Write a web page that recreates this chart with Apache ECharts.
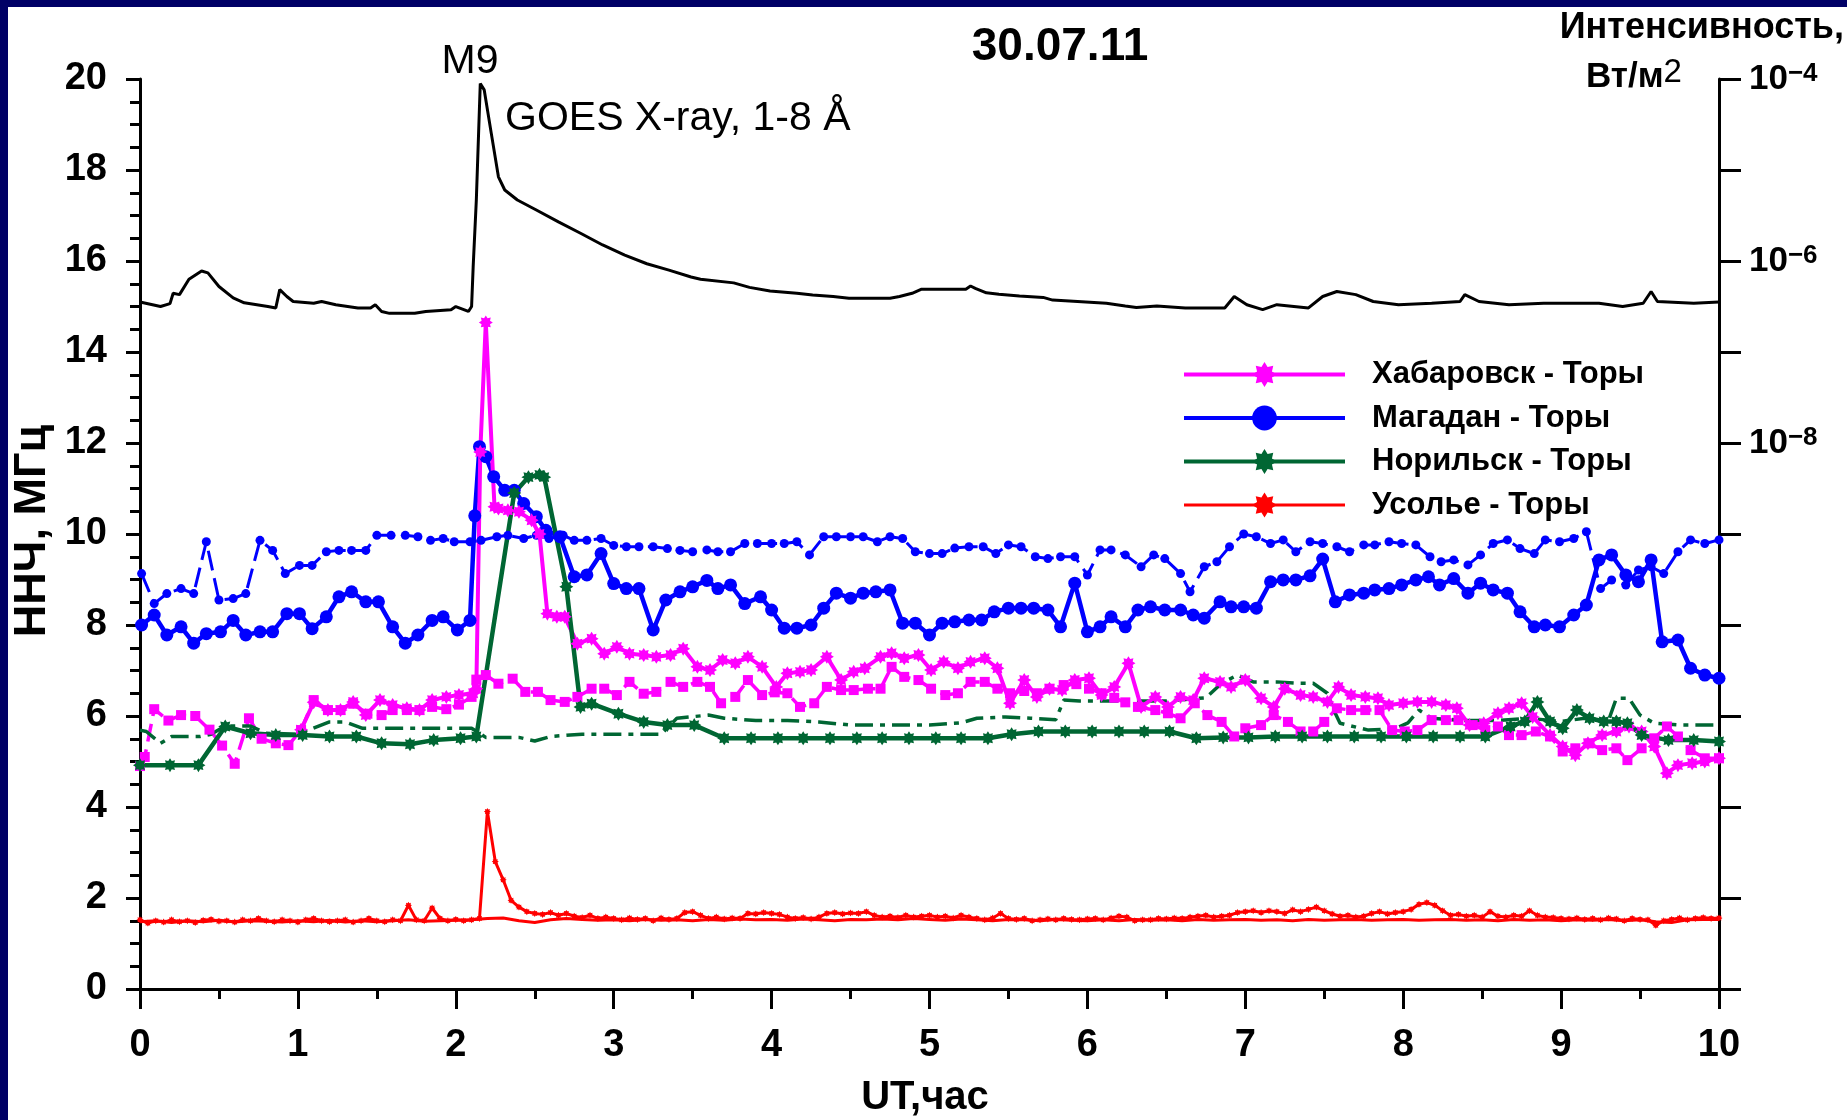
<!DOCTYPE html>
<html><head><meta charset="utf-8">
<script src="https://cdn.jsdelivr.net/npm/echarts@6/dist/echarts.min.js"></script>
<style>
html,body{margin:0;padding:0;background:#000066;width:1847px;height:1120px;overflow:hidden}
#chart{position:absolute;left:8px;top:7px;width:1839px;height:1113px;background:#fff}
</style></head><body><div id="chart"></div>
<script>
// ---------------- DATA ----------------
// time axis (UT, hours) ticks and left axis ticks
const xTickHours = [0,1,2,3,4,5,6,7,8,9,10];
const leftTicks = [0,2,4,6,8,10,12,14,16,18,20];
// right (log) axis: tick decades and labelled decades
const goesTickValues = [1e-4,1e-5,1e-6,1e-7,1e-8,1e-9,1e-10,1e-11,1e-12,1e-13,1e-14];
const goesLabelValues = [1e-4,1e-6,1e-8];

// GOES X-ray flux 1-8 A, W/m^2  [UT hour, flux]
const goesXray = [[0.00,3.55e-7],[0.13,3.16e-7],[0.19,3.4e-7],[0.21,4.42e-7],[0.25,4.27e-7],[0.31,6.31e-7],[0.39,7.76e-7],[0.43,7.41e-7],[0.50,5.25e-7],[0.59,3.94e-7],[0.66,3.47e-7],[0.81,3.16e-7],[0.86,3.05e-7],[0.885,4.84e-7],[0.93,4.07e-7],[0.97,3.59e-7],[1.10,3.43e-7],[1.15,3.59e-7],[1.24,3.31e-7],[1.38,3.05e-7],[1.46,3.05e-7],[1.49,3.31e-7],[1.53,2.79e-7],[1.58,2.66e-7],[1.74,2.66e-7],[1.81,2.79e-7],[1.97,2.92e-7],[2.00,3.16e-7],[2.08,2.79e-7],[2.10,3.16e-7],[2.11,8.61e-7],[2.13,4.68e-6],[2.155,8.91e-5],[2.18,7.59e-5],[2.225,2.51e-5],[2.27,8.41e-6],[2.31,6.03e-6],[2.39,4.68e-6],[2.51,3.63e-6],[2.65,2.69e-6],[2.79,2.02e-6],[2.93,1.50e-6],[3.07,1.16e-6],[3.21,9.33e-7],[3.35,7.94e-7],[3.49,6.68e-7],[3.55,6.31e-7],[3.76,5.75e-7],[3.86,5.13e-7],[3.99,4.68e-7],[4.16,4.42e-7],[4.26,4.22e-7],[4.39,4.07e-7],[4.49,3.89e-7],[4.75,3.89e-7],[4.81,4.07e-7],[4.89,4.42e-7],[4.95,4.90e-7],[5.23,4.90e-7],[5.26,5.31e-7],[5.29,5.01e-7],[5.36,4.47e-7],[5.44,4.32e-7],[5.57,4.12e-7],[5.72,3.98e-7],[5.78,3.72e-7],[5.99,3.55e-7],[6.12,3.43e-7],[6.24,3.20e-7],[6.31,3.09e-7],[6.44,3.20e-7],[6.62,3.05e-7],[6.87,3.05e-7],[6.93,4.07e-7],[7.01,3.31e-7],[7.11,2.92e-7],[7.20,3.31e-7],[7.40,3.05e-7],[7.49,4.07e-7],[7.58,4.62e-7],[7.70,4.27e-7],[7.81,3.59e-7],[7.97,3.31e-7],[8.18,3.43e-7],[8.36,3.59e-7],[8.39,4.27e-7],[8.48,3.59e-7],[8.67,3.31e-7],[8.89,3.43e-7],[9.09,3.43e-7],[9.24,3.43e-7],[9.39,3.16e-7],[9.52,3.43e-7],[9.57,4.62e-7],[9.61,3.59e-7],[9.84,3.43e-7],[10.0,3.55e-7]];

// Магадан - Торы, MHz  [UT hour, MHz]
const magadanMain = [[0.01,8.0],[0.09,8.22],[0.17,7.78],[0.26,7.96],[0.34,7.6],[0.42,7.81],[0.51,7.85],[0.59,8.1],[0.67,7.78],[0.76,7.85],[0.84,7.85],[0.93,8.25],[1.01,8.25],[1.09,7.92],[1.18,8.18],[1.26,8.62],[1.34,8.73],[1.43,8.51],[1.51,8.51],[1.60,7.96],[1.68,7.6],[1.76,7.78],[1.85,8.1],[1.92,8.18],[2.01,7.89],[2.09,8.1],[2.12,10.4],[2.15,11.92],[2.19,11.7],[2.24,11.26],[2.31,10.96],[2.37,10.96],[2.43,10.67],[2.51,10.38],[2.57,10.08],[2.66,9.94],[2.75,9.06],[2.83,9.1],[2.92,9.57],[3.0,8.91],[3.08,8.8],[3.16,8.8],[3.25,7.89],[3.33,8.55],[3.42,8.73],[3.5,8.84],[3.59,8.98],[3.66,8.8],[3.74,8.88],[3.83,8.47],[3.93,8.62],[4.0,8.33],[4.08,7.93],[4.16,7.93],[4.25,8.0],[4.33,8.37],[4.41,8.7],[4.5,8.59],[4.58,8.7],[4.66,8.73],[4.75,8.77],[4.83,8.04],[4.91,8.04],[5.0,7.78],[5.08,8.04],[5.16,8.07],[5.25,8.11],[5.33,8.11],[5.41,8.29],[5.5,8.37],[5.58,8.37],[5.66,8.37],[5.75,8.33],[5.83,7.96],[5.92,8.92],[6.0,7.85],[6.08,7.96],[6.15,8.18],[6.24,7.96],[6.32,8.33],[6.4,8.4],[6.49,8.33],[6.59,8.33],[6.67,8.22],[6.74,8.15],[6.84,8.51],[6.91,8.4],[6.99,8.4],[7.07,8.37],[7.16,8.95],[7.24,8.99],[7.32,8.99],[7.41,9.08],[7.49,9.45],[7.57,8.51],[7.66,8.66],[7.75,8.7],[7.82,8.77],[7.91,8.8],[7.99,8.88],[8.08,8.99],[8.16,9.06],[8.23,8.88],[8.32,9.02],[8.41,8.7],[8.49,8.92],[8.57,8.77],[8.66,8.7],[8.74,8.29],[8.83,7.96],[8.9,8.0],[8.99,7.96],[9.08,8.22],[9.16,8.44],[9.24,9.43],[9.32,9.54],[9.41,9.1],[9.49,8.95],[9.57,9.43],[9.64,7.63],[9.74,7.67],[9.82,7.05],[9.91,6.9],[10.0,6.83]];
const magadanAlt = [[0.01,9.13],[0.09,8.47],[0.17,8.69],[0.26,8.8],[0.34,8.69],[0.42,9.83],[0.5,8.55],[0.59,8.58],[0.67,8.69],[0.76,9.86],[0.84,9.64],[0.92,9.13],[1.01,9.31],[1.09,9.31],[1.18,9.61],[1.26,9.64],[1.34,9.64],[1.43,9.64],[1.5,9.97],[1.59,9.97],[1.68,9.97],[1.76,9.94],[1.84,9.86],[1.92,9.9],[1.99,9.83],[2.09,9.83],[2.16,9.86],[2.26,9.94],[2.33,9.97],[2.43,9.9],[2.51,9.97],[2.59,9.9],[2.68,9.97],[2.75,9.86],[2.83,9.86],[2.92,9.9],[3.0,9.75],[3.08,9.72],[3.16,9.72],[3.25,9.72],[3.34,9.68],[3.42,9.64],[3.5,9.61],[3.59,9.65],[3.66,9.61],[3.74,9.61],[3.83,9.79],[3.91,9.79],[4.0,9.79],[4.08,9.79],[4.16,9.83],[4.24,9.54],[4.33,9.94],[4.41,9.94],[4.5,9.94],[4.58,9.94],[4.67,9.83],[4.75,9.94],[4.83,9.9],[4.91,9.61],[5.0,9.57],[5.08,9.57],[5.16,9.69],[5.25,9.72],[5.34,9.72],[5.42,9.57],[5.5,9.76],[5.58,9.72],[5.67,9.5],[5.75,9.46],[5.83,9.5],[5.92,9.5],[6.0,9.1],[6.08,9.65],[6.15,9.65],[6.24,9.54],[6.34,9.28],[6.42,9.54],[6.49,9.46],[6.59,9.13],[6.65,8.73],[6.74,9.28],[6.82,9.39],[6.9,9.72],[6.99,10.0],[7.07,9.94],[7.16,9.79],[7.24,9.87],[7.32,9.61],[7.41,9.83],[7.49,9.79],[7.58,9.72],[7.66,9.61],[7.75,9.76],[7.82,9.76],[7.91,9.83],[7.99,9.79],[8.08,9.76],[8.17,9.5],[8.24,9.39],[8.32,9.43],[8.41,9.32],[8.49,9.54],[8.57,9.79],[8.66,9.87],[8.74,9.68],[8.83,9.57],[8.9,9.87],[8.99,9.83],[9.08,9.9],[9.16,10.05],[9.25,8.8],[9.32,8.99],[9.41,8.88],[9.49,9.21],[9.57,9.28],[9.65,9.13],[9.74,9.61],[9.82,9.87],[9.91,9.79],[10.0,9.87]];

// Хабаровск - Торы
const khabMain = [[1.02,5.7],[1.1,6.3],[1.19,6.13],[1.27,6.13],[1.35,6.31],[1.43,6.02],[1.52,6.35],[1.6,6.24],[1.69,6.17],[1.77,6.13],[1.85,6.35],[1.94,6.42],[2.02,6.46],[2.11,6.5],[2.13,6.6],[2.155,11.8],[2.19,14.65],[2.245,10.6],[2.27,10.56],[2.33,10.52],[2.4,10.49],[2.48,10.3],[2.53,10.0],[2.58,8.25],[2.64,8.18],[2.69,8.18],[2.77,7.59],[2.86,7.7],[2.94,7.37],[3.02,7.52],[3.1,7.37],[3.19,7.34],[3.27,7.3],[3.36,7.34],[3.44,7.48],[3.53,7.08],[3.61,7.01],[3.69,7.23],[3.77,7.16],[3.85,7.3],[3.94,7.08],[4.03,6.64],[4.1,6.94],[4.18,6.97],[4.25,7.01],[4.35,7.3],[4.44,6.79],[4.52,6.97],[4.59,7.05],[4.69,7.3],[4.76,7.38],[4.84,7.27],[4.93,7.34],[5.01,7.01],[5.09,7.19],[5.18,7.05],[5.26,7.19],[5.35,7.27],[5.43,7.05],[5.51,6.28],[5.6,6.79],[5.68,6.42],[5.76,6.6],[5.84,6.57],[5.92,6.79],[6.01,6.83],[6.09,6.46],[6.17,6.64],[6.26,7.16],[6.34,6.2],[6.43,6.42],[6.51,6.2],[6.59,6.42],[6.67,6.35],[6.74,6.83],[6.84,6.75],[6.91,6.64],[7.0,6.79],[7.1,6.39],[7.18,6.2],[7.25,6.6],[7.35,6.46],[7.43,6.42],[7.52,6.31],[7.59,6.64],[7.67,6.46],[7.76,6.42],[7.84,6.39],[7.91,6.24],[8.0,6.28],[8.09,6.31],[8.18,6.31],[8.27,6.24],[8.34,6.17],[8.42,5.8],[8.51,5.84],[8.6,6.06],[8.67,6.17],[8.75,6.28],[8.82,5.98],[8.93,5.58],[9.01,5.33],[9.09,5.14],[9.17,5.4],[9.26,5.58],[9.35,5.66],[9.43,5.77],[9.51,5.66],[9.59,5.33],[9.67,4.74],[9.74,4.92],[9.83,4.96],[9.91,5.0],[10.0,5.07]];
const khabAlt = [[0.0,4.9],[0.03,5.1],[0.09,6.15],[0.18,5.9],[0.26,6.02],[0.35,6.0],[0.44,5.7],[0.52,5.35],[0.6,4.95],[0.69,5.95],[0.77,5.5],[0.86,5.4],[0.94,5.36],[1.02,5.69],[1.1,6.35],[1.19,6.13],[1.27,6.13],[1.35,6.27],[1.44,6.05],[1.53,6.02],[1.6,6.13],[1.69,6.13],[1.77,6.13],[1.85,6.2],[1.94,6.15],[2.02,6.25],[2.1,6.42],[2.13,6.8],[2.19,6.9],[2.27,6.71],[2.36,6.82],[2.44,6.53],[2.52,6.53],[2.6,6.35],[2.69,6.31],[2.77,6.42],[2.86,6.6],[2.94,6.6],[3.02,6.46],[3.1,6.75],[3.19,6.49],[3.27,6.53],[3.36,6.75],[3.44,6.64],[3.53,6.75],[3.61,6.64],[3.68,6.28],[3.77,6.42],[3.85,6.79],[3.94,6.46],[4.02,6.52],[4.1,6.5],[4.18,6.2],[4.27,6.28],[4.35,6.64],[4.44,6.57],[4.52,6.57],[4.61,6.6],[4.69,6.6],[4.76,7.08],[4.84,6.86],[4.93,6.79],[5.01,6.6],[5.1,6.46],[5.18,6.5],[5.26,6.75],[5.35,6.75],[5.43,6.6],[5.51,6.5],[5.6,6.55],[5.68,6.5],[5.76,6.6],[5.85,6.68],[5.93,6.7],[6.01,6.6],[6.09,6.5],[6.17,6.4],[6.24,6.3],[6.32,6.2],[6.43,6.13],[6.51,6.06],[6.59,5.95],[6.68,6.28],[6.76,6.02],[6.85,5.87],[6.93,5.55],[7.0,5.73],[7.1,5.8],[7.18,6.02],[7.27,5.87],[7.35,5.66],[7.43,5.66],[7.5,5.87],[7.58,6.17],[7.67,6.13],[7.76,6.13],[7.85,6.13],[7.93,5.69],[8.01,5.66],[8.09,5.69],[8.18,5.91],[8.27,5.91],[8.35,5.91],[8.44,5.8],[8.52,5.69],[8.6,5.77],[8.67,5.58],[8.75,5.58],[8.84,5.66],[8.93,5.55],[9.01,5.22],[9.09,5.29],[9.18,5.4],[9.26,5.25],[9.35,5.29],[9.42,5.03],[9.51,5.29],[9.59,5.51],[9.67,5.77],[9.74,5.55],[9.82,5.25],[9.91,5.07],[10.0,5.07]];

// Норильск - Торы
const norMain = [[0.0,4.92],[0.19,4.92],[0.37,4.92],[0.54,5.77],[0.7,5.62],[0.86,5.58],[1.03,5.58],[1.2,5.55],[1.37,5.55],[1.53,5.4],[1.71,5.38],[1.86,5.47],[2.03,5.51],[2.13,5.55],[2.37,10.9],[2.46,11.25],[2.53,11.3],[2.56,11.25],[2.7,8.84],[2.79,6.2],[2.86,6.27],[3.03,6.05],[3.19,5.87],[3.34,5.8],[3.51,5.8],[3.7,5.51],[3.87,5.51],[4.04,5.51],[4.2,5.51],[4.37,5.51],[4.54,5.51],[4.7,5.51],[4.87,5.51],[5.04,5.51],[5.2,5.51],[5.37,5.51],[5.52,5.6],[5.69,5.66],[5.86,5.66],[6.03,5.66],[6.2,5.66],[6.36,5.66],[6.52,5.66],[6.69,5.51],[6.86,5.53],[7.02,5.53],[7.19,5.55],[7.36,5.55],[7.52,5.55],[7.69,5.55],[7.86,5.55],[8.02,5.55],[8.19,5.55],[8.36,5.55],[8.52,5.55],[8.68,5.77],[8.77,5.88],[8.85,6.31],[8.93,5.88],[9.01,5.73],[9.1,6.13],[9.18,5.95],[9.27,5.88],[9.35,5.88],[9.42,5.84],[9.51,5.58],[9.68,5.47],[9.84,5.47],[10.0,5.44]];
const norAlt = [[0.0,5.69],[0.04,5.66],[0.13,5.4],[0.2,5.55],[0.38,5.55],[0.45,5.6],[0.54,5.78],[0.7,5.78],[0.8,5.62],[1.0,5.6],[1.2,5.87],[1.3,5.87],[1.41,5.73],[1.6,5.73],[1.8,5.73],[2.1,5.73],[2.19,5.53],[2.4,5.53],[2.5,5.45],[2.6,5.55],[2.8,5.6],[3.0,5.6],[3.3,5.6],[3.4,5.95],[3.6,6.02],[3.7,5.95],[3.9,5.9],[4.1,5.9],[4.3,5.87],[4.5,5.8],[4.8,5.8],[5.0,5.8],[5.2,5.85],[5.3,5.95],[5.48,5.98],[5.64,5.95],[5.8,5.92],[5.85,6.35],[5.95,6.33],[6.2,6.33],[6.5,6.33],[6.75,6.4],[6.85,6.72],[6.95,6.9],[7.05,6.75],[7.2,6.75],[7.34,6.72],[7.43,6.72],[7.52,6.5],[7.56,6.13],[7.6,5.84],[7.78,5.69],[7.95,5.72],[8.03,5.85],[8.1,6.13],[8.18,5.95],[8.4,5.9],[8.6,5.9],[8.8,5.95],[9.0,5.88],[9.15,5.95],[9.3,5.9],[9.35,6.39],[9.43,6.39],[9.5,6.02],[9.59,5.84],[9.76,5.8],[10.0,5.8]];

// Усолье - Торы: sampled every 0.05 h (main) and 0.1 h (second trace)
const usolStep = 0.05;
const usolMainV = [
1.52,1.45,1.50,1.47,1.52,1.48,1.50,1.46,1.51,1.53,1.49,1.50,1.47,1.52,1.50,1.55,1.50,1.48,1.52,1.50,
1.47,1.52,1.55,1.50,1.48,1.50,1.52,1.47,1.50,1.55,1.50,1.48,1.52,1.50,1.84,1.52,1.50,1.78,1.55,1.50,
1.53,1.50,1.52,1.55,3.90,2.80,2.40,1.95,1.80,1.70,1.66,1.64,1.68,1.62,1.66,1.60,1.57,1.62,1.55,1.58,
1.55,1.52,1.56,1.53,1.55,1.50,1.56,1.53,1.55,1.68,1.70,1.62,1.55,1.58,1.54,1.56,1.55,1.66,1.65,1.68,
1.66,1.64,1.58,1.55,1.57,1.54,1.58,1.66,1.68,1.65,1.67,1.66,1.70,1.62,1.58,1.60,1.57,1.62,1.58,1.60,
1.62,1.58,1.60,1.56,1.62,1.58,1.55,1.52,1.56,1.66,1.55,1.53,1.55,1.50,1.52,1.54,1.52,1.55,1.53,1.52,
1.54,1.55,1.52,1.56,1.60,1.58,1.50,1.52,1.52,1.55,1.54,1.56,1.55,1.58,1.60,1.62,1.58,1.60,1.62,1.68,
1.70,1.72,1.68,1.72,1.70,1.66,1.74,1.70,1.75,1.80,1.72,1.65,1.60,1.62,1.58,1.60,1.66,1.70,1.65,1.68,
1.70,1.75,1.86,1.90,1.84,1.72,1.62,1.64,1.60,1.62,1.58,1.70,1.60,1.58,1.62,1.60,1.72,1.62,1.58,1.57,
1.55,1.54,1.56,1.53,1.55,1.52,1.56,1.54,1.50,1.55,1.53,1.52,1.40,1.50,1.53,1.56,1.52,1.55,1.57,1.55,
1.56];
const usolAltStep = 0.1;
const usolAltV = [
1.48,1.50,1.46,1.50,1.48,1.51,1.47,1.50,1.49,1.47,
1.50,1.48,1.51,1.47,1.50,1.48,1.50,1.52,1.49,1.50,
1.51,1.52,1.55,1.56,1.50,1.46,1.52,1.55,1.53,1.51,
1.52,1.50,1.53,1.51,1.52,1.50,1.53,1.51,1.54,1.52,
1.53,1.51,1.54,1.52,1.50,1.53,1.52,1.54,1.52,1.55,
1.53,1.51,1.54,1.52,1.50,1.53,1.52,1.50,1.53,1.51,
1.50,1.52,1.50,1.53,1.51,1.52,1.50,1.53,1.51,1.52,
1.53,1.51,1.52,1.50,1.53,1.51,1.52,1.53,1.51,1.52,
1.53,1.51,1.52,1.53,1.51,1.52,1.50,1.53,1.51,1.52,
1.50,1.52,1.51,1.53,1.50,1.52,1.48,1.46,1.52,1.53,
1.53];

const legendNames = ['Хабаровск - Торы','Магадан - Торы','Норильск - Торы','Усолье - Торы'];

// ---------------- CHART ----------------
const FONT = '"Liberation Sans", Arial, Helvetica, sans-serif';
const STAR = 'path://M10 0L12.49 3.99L17.07 2.93L16.01 7.51L20 10L16.01 12.49L17.07 17.07L12.49 16.01L10 20L7.51 16.01L2.93 17.07L3.99 12.49L0 10L3.99 7.51L2.93 2.93L7.51 3.99Z';
const C_MAG = '#ff00ff', C_BLUE = '#0000ff', C_GREEN = '#006633', C_RED = '#ff0000';

const usolMainData = usolMainV.map((v, i) => [+(i * usolStep).toFixed(3), v]);
const usolAltData = usolAltV.map((v, i) => [+(i * usolAltStep).toFixed(3), v]);

function lineSeries(name, data, color, width, symbol, size, dash, extra) {
  return Object.assign({
    name, type: 'line', data, xAxisIndex: 0, yAxisIndex: 0,
    symbol: symbol || 'none', symbolSize: size || 0, showSymbol: !!symbol,
    itemStyle: { color, borderWidth: 0 },
    lineStyle: { color, width, type: dash || 'solid' },
    emphasis: { disabled: true }, silent: true, animation: false
  }, extra || {});
}

const chart = echarts.init(document.getElementById('chart'), null, { renderer: 'canvas' });
const axisBlack = { color: '#000', width: 3 };
const labelFont = { fontFamily: FONT, fontWeight: 'bold', color: '#000' };

chart.setOption({
  animation: false,
  backgroundColor: '#ffffff',
  textStyle: { fontFamily: FONT },
  grid: { left: 132, right: 128, top: 72, bottom: 131, containLabel: false, outerBoundsMode: 'none' },
  xAxis: [{
    type: 'value', min: xTickHours[0], max: xTickHours[xTickHours.length - 1], interval: 1,
    axisLine: { onZero: false, lineStyle: axisBlack },
    axisTick: { show: true, inside: false, length: 20, lineStyle: axisBlack },
    minorTick: { show: true, splitNumber: 2, length: 10, lineStyle: axisBlack },
    axisLabel: Object.assign({ fontSize: 38, margin: 38 }, labelFont),
    splitLine: { show: false }, minorSplitLine: { show: false }
  }],
  yAxis: [{
    type: 'value', position: 'left', min: leftTicks[0], max: leftTicks[leftTicks.length - 1], interval: 2,
    axisLine: { onZero: false, lineStyle: axisBlack },
    axisTick: { show: true, inside: false, length: 14, lineStyle: axisBlack },
    minorTick: { show: true, splitNumber: 4, length: 10, lineStyle: axisBlack },
    axisLabel: Object.assign({ fontSize: 38, margin: 33 }, labelFont),
    splitLine: { show: false }, minorSplitLine: { show: false }
  }, {
    type: 'log', logBase: 10, position: 'right', min: 1e-14, max: 1e-4,
    axisLine: { show: true, onZero: false, lineStyle: axisBlack },
    axisTick: { show: true, inside: false, length: 22, lineStyle: axisBlack, customValues: goesTickValues },
    minorTick: { show: false },
    axisLabel: {
      show: true, margin: 30, customValues: goesLabelValues,
      formatter: v => '{b|10}{s|\u2212' + Math.abs(Math.round(Math.log10(v))) + '}',
      rich: {
        b: { fontFamily: FONT, fontWeight: 'bold', fontSize: 35, lineHeight: 36, color: '#000' },
        s: { fontFamily: FONT, fontWeight: 'bold', fontSize: 26, lineHeight: 22, verticalAlign: 'top', color: '#000' }
      }
    },
    splitLine: { show: false }, minorSplitLine: { show: false }
  }],
  legend: {
    show: true, orient: 'vertical', left: 1174, top: 352, padding: 0,
    itemWidth: 161, itemHeight: 31, itemGap: 12.5, selectedMode: false,
    lineStyle: { width: 4 },
    data: [
      { name: legendNames[0], lineStyle: { width: 4 } },
      { name: legendNames[1], lineStyle: { width: 4 } },
      { name: legendNames[2], lineStyle: { width: 4 } },
      { name: legendNames[3], lineStyle: { width: 3 } }
    ],
    textStyle: { fontFamily: FONT, fontSize: 31, fontWeight: 'bold', color: '#000', padding: [0, 0, 0, 22] }
  },
  graphic: [
    { type: 'text', x: 1052, y: 40, style: { text: '30.07.11', font: 'bold 46px ' + FONT, fill: '#000', align: 'center', verticalAlign: 'middle' } },
    { type: 'text', x: 462, y: 55, style: { text: 'M9', font: '41px ' + FONT, fill: '#000', align: 'center', verticalAlign: 'middle' } },
    { type: 'text', x: 497, y: 112, style: { text: 'GOES X-ray, 1-8 Å', font: '41px ' + FONT, fill: '#000', align: 'left', verticalAlign: 'middle' } },
    { type: 'text', x: 1836, y: 21, style: { text: 'Интенсивность,', font: 'bold 36px ' + FONT, fill: '#000', align: 'right', verticalAlign: 'middle' } },
    { type: 'text', x: 1578, y: 70, style: { text: '{a|Вт/м}{b|2}', align: 'left', verticalAlign: 'middle',
        rich: { a: { fontFamily: FONT, fontWeight: 'bold', fontSize: 35, lineHeight: 42, fill: '#000', color: '#000' },
                b: { fontFamily: FONT, fontSize: 33, lineHeight: 24, verticalAlign: 'top', fill: '#000', color: '#000' } } } },
    { type: 'text', x: 25, y: 524, rotation: Math.PI / 2, style: { text: 'ННЧ, МГц', font: 'bold 45px ' + FONT, fill: '#000', align: 'center', verticalAlign: 'middle' } },
    { type: 'text', x: 917, y: 1091, style: { text: 'UT,час', font: 'bold 40px ' + FONT, fill: '#000', align: 'center', verticalAlign: 'middle' } }
  ],
  series: [
    lineSeries('GOES X-ray', goesXray, '#000000', 3, null, 0, 'solid', { yAxisIndex: 1 }),
    lineSeries('Усолье 2', usolAltData, C_RED, 3, null, 0, 'solid'),
    lineSeries('Усолье - Торы', usolMainData, C_RED, 3, STAR, 7, 'solid'),
    lineSeries('Магадан 2', magadanAlt, C_BLUE, 3, 'circle', 9, [20, 8]),
    lineSeries('Хабаровск 2', khabAlt, C_MAG, 3.5, 'rect', 10, [18, 8]),
    lineSeries('Норильск 2', norAlt, C_GREEN, 3.5, null, 0, [18, 7, 5, 7]),
    lineSeries('Магадан - Торы', magadanMain, C_BLUE, 4.5, 'circle', 13, 'solid'),
    lineSeries('Хабаровск - Торы', khabMain, C_MAG, 4, STAR, 14, 'solid'),
    lineSeries('Норильск - Торы', norMain, C_GREEN, 4.5, STAR, 14, 'solid')
  ]
});
</script></body></html>
